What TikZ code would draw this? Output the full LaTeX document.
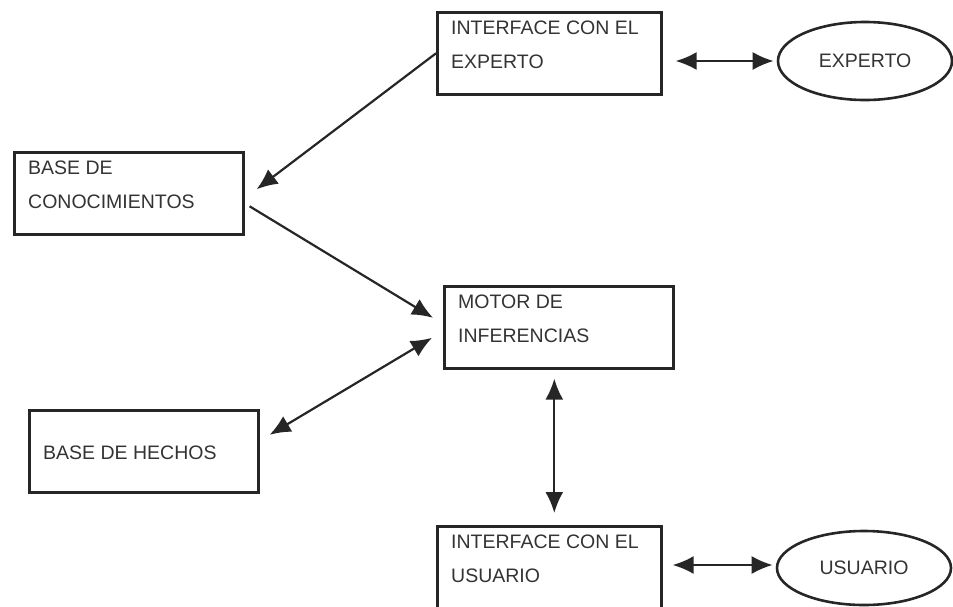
\documentclass[tikz,border=0pt]{standalone}
\usepackage{fontspec}
\setmainfont{Liberation Sans}
\usetikzlibrary{arrows.meta,shapes.geometric}
\tikzset{>={Latex[length=21pt,width=18pt]}}

\begin{document}
\begin{tikzpicture}[x=1pt,y=-1pt,
    caja/.style={draw=black!85, line width=2.6pt, anchor=north west,
        minimum width=#1, minimum height=82pt, inner sep=0pt},
    texto/.style={anchor=north west, align=left, inner xsep=15pt, inner ysep=10pt,
        font=\fontsize{19.5pt}{34pt}\selectfont, text=black!80},
    elipse/.style={draw=black!85, ellipse, line width=2.6pt, minimum width=174pt,
        minimum height=#1, font=\fontsize{19.5pt}{34pt}\selectfont, text=black!80},
    flecha/.style={line width=2.2pt, draw=black!85}]
    \useasboundingbox (0,0) rectangle (953,606);
    \node[caja=224pt, label={[texto]north west:{INTERFACE CON EL\\EXPERTO}}] (iexp) at (436,11) {};
    \node[caja=229pt, label={[texto]north west:{BASE DE\\CONOCIMIENTOS}}] (bc) at (13,151) {};
    \node[caja=229pt, label={[texto]north west:{MOTOR DE\\INFERENCIAS}}] (motor) at (443,285) {};
    \node[caja=229pt, label={[texto, inner ysep=37pt]north west:{BASE DE HECHOS}}] (bh) at (28,409) {};
    \node[caja=224pt, minimum height=90pt, label={[texto]north west:{INTERFACE CON EL\\USUARIO}}] (iusu) at (436,525) {};
    \node[elipse=78pt] (experto) at (865,61) {EXPERTO};
    \node[elipse=74pt] (usuario) at (864,568) {USUARIO};
    \draw[flecha,->] (iexp.west) -- ([shift={(12,-4)}]bc.east);
    \draw[flecha,->] ([shift={(5,13)}]bc.east) -- ([shift={(-10,-9.5)}]motor.west);
    \draw[flecha,<->] ([shift={(-11,10.5)}]motor.west) -- ([shift={(10,-16.5)}]bh.east);
    \draw[flecha,<->] ([shift={(-4.5,9)}]motor.south) -- ([shift={(-4.5,-12)}]motor.south |- iusu.north);
    \draw[flecha,<->] ([xshift=13pt]iexp.east |- experto.west) -- ([xshift=-3pt]experto.west);
    \draw[flecha,<->] ([xshift=10pt]iusu.east |- 0,565) -- ([xshift=-3pt]usuario.west |- 0,565);
\end{tikzpicture}
\end{document}
